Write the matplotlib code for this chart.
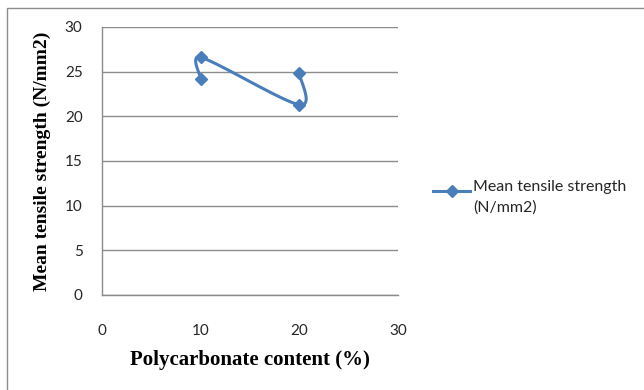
import numpy as np
import matplotlib
matplotlib.use("Agg")
import matplotlib.pyplot as plt
from matplotlib.lines import Line2D
from matplotlib.patches import Rectangle

# data
pc_content = [10, 10, 20, 20]
tensile = [24.2, 26.6, 21.3, 24.8]
series_name = "Mean tensile strength\n(N/mm2)"
x_ticks = [0, 10, 20, 30]
y_ticks = [0, 5, 10, 15, 20, 25, 30]

blue = "#4A7EBB"
grid_col = "#8C8C8C"
text_col = "#262626"
tick_font = "Lato"

W, H = 644, 390
fig = plt.figure(figsize=(W / 100, H / 100), dpi=100)
ax = fig.add_axes([102 / W, 1 - 295 / H, (398 - 102) / W, (295 - 27) / H])

ax.set_xlim(0, 30)
ax.set_ylim(0, 30)
ax.set_xticks(x_ticks)
ax.set_yticks(y_ticks)
ax.grid(axis="y", color=grid_col, linewidth=1.0)
ax.set_axisbelow(True)
for side in ("top", "right"):
    ax.spines[side].set_visible(False)
for side in ("left", "bottom"):
    ax.spines[side].set_color(grid_col)
    ax.spines[side].set_linewidth(1.0)
ax.tick_params(length=0, labelsize=11, labelcolor=text_col, pad=14)
ax.tick_params(axis="x", pad=21)
for lab in ax.get_xticklabels() + ax.get_yticklabels():
    lab.set_fontfamily(tick_font)


# smoothed line: catmull-rom arms, shortened next to short segments
def smooth_path(xs, ys, k=0.7, n=40):
    pts = ax.transData.transform(np.column_stack([xs, ys]))
    m = len(pts)
    c_in = [None] * m
    c_out = [None] * m
    for i in range(m):
        p_prev = pts[max(i - 1, 0)]
        p_next = pts[min(i + 1, m - 1)]
        d = p_next - p_prev
        l1 = np.hypot(*(pts[i] - p_prev))
        l2 = np.hypot(*(p_next - pts[i]))
        tot = l1 + l2
        c_in[i] = pts[i] - d * min(k * l1 / tot, 1 / 6)
        c_out[i] = pts[i] + d * min(k * l2 / tot, 1 / 6)
    out = []
    for i in range(m - 1):
        p1, p2 = pts[i], pts[i + 1]
        c1, c2 = c_out[i], c_in[i + 1]
        t = np.linspace(0, 1, n)[:, None]
        seg = ((1 - t) ** 3) * p1 + 3 * ((1 - t) ** 2) * t * c1 + 3 * (1 - t) * t ** 2 * c2 + t ** 3 * p2
        out.append(seg if i == 0 else seg[1:])
    out = np.vstack(out)
    return ax.transData.inverted().transform(out)


curve = smooth_path(pc_content, tensile)
ax.plot(curve[:, 0], curve[:, 1], color=blue, linewidth=2.2, solid_capstyle="round", zorder=3)
ax.plot(pc_content, tensile, linestyle="none", marker="D", markersize=6.5,
        color=blue, zorder=4)

ax.set_xlabel("Polycarbonate content (%)", fontfamily="Liberation Serif",
              fontweight="bold", fontsize=15, color="black", va="center")
ax.set_ylabel("Mean tensile strength (N/mm2)", fontfamily="Liberation Serif",
              fontweight="bold", fontsize=14, color="black", va="center")
ax.xaxis.set_label_coords(0.5, (295 - 360) / 268)
ax.yaxis.set_label_coords((42 - 102) / 296, 0.5)

# legend drawn by hand so the key sits on the first text line
ly = 1 - 190.5 / H
fig.add_artist(Line2D([433 / W, 451.5 / W, 470 / W], [ly, ly, ly], color=blue,
                      linewidth=2.2, marker="D", markersize=6.5, markevery=[1]))
fig.text(473 / W, ly + 10 / H, series_name, fontfamily=tick_font, fontsize=11.5,
         color=text_col, va="top", ha="left", linespacing=1.48)

# outer chart frame
fig.add_artist(Rectangle((7 / W, -0.05), 1.2, 1 - 7.5 / H + 0.05,
                         transform=fig.transFigure, fill=False,
                         edgecolor="#8C8C8C", linewidth=1.0))

fig.savefig("out.png", dpi=100)
